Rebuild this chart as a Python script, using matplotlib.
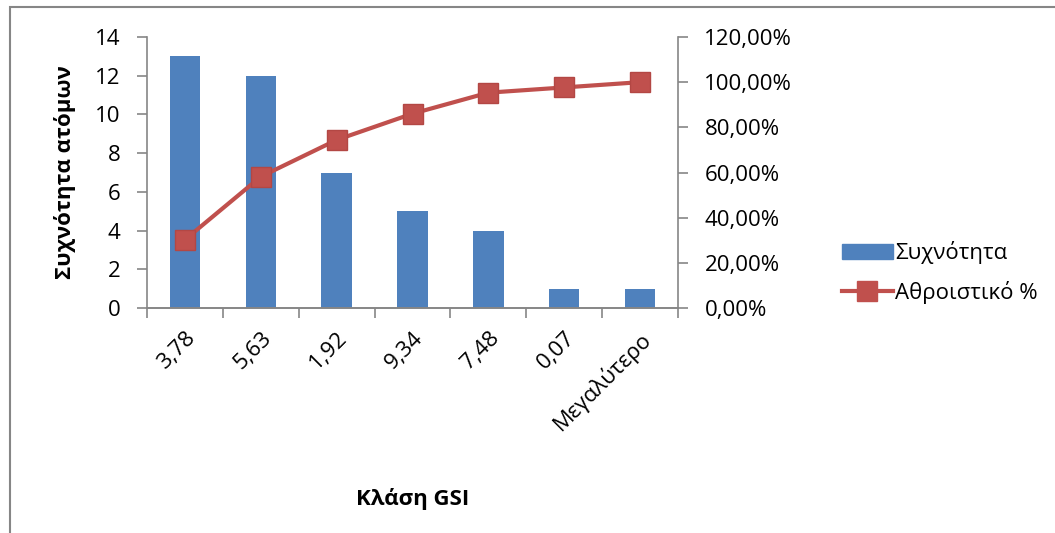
import matplotlib.pyplot as plt
from matplotlib.ticker import FuncFormatter, FixedLocator
from matplotlib.lines import Line2D

plt.rcParams['font.family'] = ['Open Sans', 'DejaVu Sans']

# data
classes = ['3,78', '5,63', '1,92', '9,34', '7,48', '0,07', 'Μεγαλύτερο']
counts = [13, 12, 7, 5, 4, 1, 1]
cum_pct = [0.3023, 0.5814, 0.7442, 0.8605, 0.9535, 0.9767, 1.0]

bar_color = '#4F81BD'
line_color = '#C0504D'
axis_color = '#868686'

fig = plt.figure(figsize=(10.55, 5.33), dpi=100)
ax = fig.add_axes([0.1393, 0.4221, 0.5034, 0.5085])
x = list(range(len(classes)))

ax.bar(x, counts, width=0.4, color=bar_color, zorder=2)
ax.set_xlim(-0.5, len(classes) - 0.5)
ax.set_ylim(0, 14)
ax.set_yticks(range(0, 15, 2))

ax2 = ax.twinx()
ax2.plot(x, cum_pct, color=line_color, lw=3, marker='s', markersize=14,
         markerfacecolor=line_color, markeredgecolor='#B34744', zorder=3)
ax2.set_ylim(0, 1.2)
ax2.set_yticks([0, 0.2, 0.4, 0.6, 0.8, 1.0, 1.2])
ax2.yaxis.set_major_formatter(FuncFormatter(lambda v, p: f'{v*100:.2f}%'.replace('.', ',')))

for a in (ax, ax2):
    a.spines['top'].set_visible(False)
    for s in ('left', 'right', 'bottom'):
        a.spines[s].set_color(axis_color)
        a.spines[s].set_linewidth(1.2)
    a.tick_params(axis='y', colors=axis_color, labelcolor='black', labelsize=16,
                  length=7, width=1.2, direction='out')
ax.spines['right'].set_visible(False)
ax2.spines['left'].set_visible(False)
ax.tick_params(axis='y', pad=12)
ax2.tick_params(axis='y', pad=12)

# x axis: labels at centers, tick marks at boundaries
ax.set_xticks(x)
ax.set_xticklabels(classes, rotation=45, ha='right', rotation_mode='anchor', fontsize=16)
ax.tick_params(axis='x', which='major', length=0, pad=14)
ax.xaxis.set_minor_locator(FixedLocator([i - 0.5 for i in range(len(classes) + 1)]))
ax.tick_params(axis='x', which='minor', length=7, width=1.2, color=axis_color, direction='out')

ax.set_ylabel('Συχνότητα ατόμων', fontsize=16, fontweight='bold', labelpad=14)
ax.set_xlabel('Κλάση GSI', fontsize=16, fontweight='bold', labelpad=38)

handles = [plt.Rectangle((0, 0), 1, 1, color=bar_color),
           Line2D([0], [0], color=line_color, lw=3, marker='s', markersize=14)]
fig.legend(handles, ['Συχνότητα', 'Αθροιστικό %'], loc='upper left',
           bbox_to_anchor=(0.779, 0.585), frameon=False, fontsize=16,
           handlelength=2.3, handletextpad=0.1, labelspacing=0.75)

# outer chart border
fig.add_artist(plt.Rectangle((0.0095, -0.02), 1.0, 1.007, transform=fig.transFigure,
                             fill=False, edgecolor=axis_color, lw=1.5))

fig.savefig('out.png', dpi=100)
